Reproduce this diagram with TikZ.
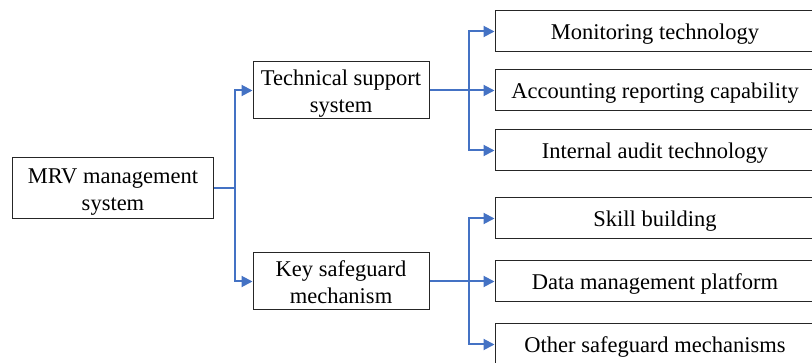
\documentclass[tikz,border=0pt]{standalone}
\usepackage{fontspec}
\setmainfont{Liberation Serif}
\usetikzlibrary{arrows.meta}
\definecolor{lineblue}{RGB}{68,114,196}
\begin{document}
\begin{tikzpicture}[x=1pt,y=-1pt,
  box/.style={draw=black!85, line width=1pt, fill=white, inner sep=0pt, align=center,
    font=\fontsize{22.5}{27}\selectfont},
  onebox/.style={box, minimum width=320pt, minimum height=41pt, text height=21.6pt, text depth=5pt},
  twobox/.style={box, text height=48.6pt, text depth=5pt},
  conn/.style={draw=lineblue, line width=2pt},
  arr/.style={conn, -{Triangle[length=11pt,width=11pt]}}]
\useasboundingbox (0,0) rectangle (812,363);
\clip (0,0) rectangle (812,363);
\node[twobox, minimum width=201pt, minimum height=61pt] (mrv) at (113,188.5) {MRV management\\system};
\node[twobox, minimum width=176pt, minimum height=57pt] (tech) at (341,90.5) {Technical support\\system};
\node[twobox, minimum width=176pt, minimum height=57pt] (key) at (341,281.5) {Key safeguard\\mechanism};
\node[onebox] (m1) at (655,31.5) {Monitoring technology};
\node[onebox] (m2) at (655,90.5) {Accounting reporting capability};
\node[onebox] (m3) at (655,150.5) {Internal audit technology};
\node[onebox] (s1) at (655,218.5) {Skill building};
\node[onebox] (s2) at (655,281.5) {Data management platform};
\node[onebox] (s3) at (655,344.5) {Other safeguard mechanisms};
\coordinate (j1) at (234.5,188.5);
\coordinate (j2) at (468.5,90.5);
\coordinate (j3) at (468.5,281.5);
\draw[conn] (mrv.east) -- (j1);
\draw[arr] (j1) |- (tech.west);
\draw[arr] (j1) |- (key.west);
\draw[conn] (tech.east) -- (j2);
\draw[arr] (j2) |- (m1.west);
\draw[arr] (j2) -- (m2.west);
\draw[arr] (j2) |- (m3.west);
\draw[conn] (key.east) -- (j3);
\draw[arr] (j3) |- (s1.west);
\draw[arr] (j3) -- (s2.west);
\draw[arr] (j3) |- (s3.west);
\end{tikzpicture}
\end{document}
